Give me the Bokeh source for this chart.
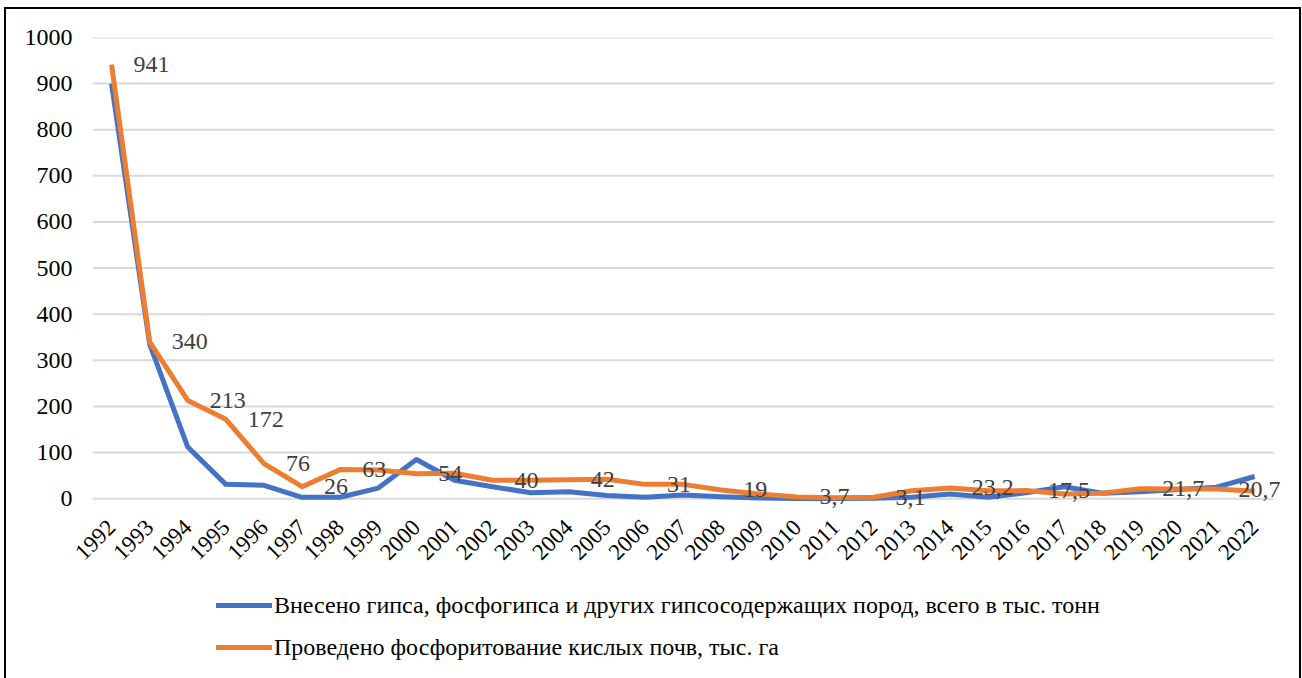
import math
from bokeh.plotting import figure
from bokeh.layouts import column
from bokeh.models import Range1d, Legend, LegendItem, ColumnDataSource, FixedTicker, LabelSet
from bokeh.embed import file_html
from bokeh.resources import INLINE

years = [str(y) for y in range(1992, 2023)]
gypsum = [900, 335, 112, 31, 29, 3, 3, 23, 85, 40, 26, 13, 15, 7, 3, 8, 4, 1.5, 0.5, 0.5, 1, 3, 10, 3, 13, 26, 12, 15, 20, 25, 48]
phosph = [941, 340, 213, 172, 76, 26, 63, 62, 54, 55, 40, 40, 41, 42, 31, 31, 19, 10, 3.7, 2, 3.1, 17, 23.2, 17, 17.5, 10, 12, 21.7, 21, 20.7, 16]
label_years = ["1992", "1993", "1994", "1995", "1996", "1997", "1998", "2000", "2002", "2004",
               "2006", "2008", "2010", "2012", "2014", "2016", "2019", "2021"]
label_texts = ["941", "340", "213", "172", "76", "26", "63", "54", "40", "42",
               "31", "19", "3,7", "3,1", "23,2", "17,5", "21,7", "20,7"]
y_ticks = list(range(0, 1001, 100))
name_gypsum = "Внесено гипса, фосфогипса и других гипсосодержащих пород, всего в тыс. тонн"
name_phosph = "Проведено фосфоритование кислых почв, тыс. га"

FONT = "Liberation Serif"
BLUE = "#4472C4"
ORANGE = "#ED7D31"
W = 1293

n = len(years)
xi = list(range(n))                       # category positions
label_x = [years.index(y) for y in label_years]
label_values = [phosph[i] for i in label_x]

# frame is a little larger than the category band so data labels at edges are not clipped
xr = Range1d(-0.5, n - 0.5 + 0.31)
yr = Range1d(-30, 1000)

p = figure(width=W, height=575, x_range=xr, y_range=yr, output_backend="svg", toolbar_location=None,
           min_border_left=86, min_border_top=28, min_border_right=14, min_border_bottom=72)
p.outline_line_color = None
p.background_fill_color = "white"
p.border_fill_color = "white"
p.grid.visible = False

# horizontal gridlines spanning the category band only
p.segment(x0=[-0.5] * len(y_ticks), x1=[n - 0.5] * len(y_ticks), y0=y_ticks, y1=y_ticks,
          line_color="#d9d9d9", line_width=2)

p.yaxis.ticker = FixedTicker(ticks=y_ticks)
p.xaxis.ticker = FixedTicker(ticks=xi)
p.xaxis.major_label_overrides = {i: y for i, y in zip(xi, years)}

for ax in (p.xaxis[0], p.yaxis[0]):
    ax.major_tick_line_color = None
    ax.minor_tick_line_color = None
    ax.major_tick_in = 0
    ax.major_tick_out = 0
    ax.axis_line_color = None
    ax.major_label_text_font = FONT
    ax.major_label_text_color = "#000000"
p.yaxis.major_label_text_font_size = "24px"
p.xaxis.major_label_text_font_size = "23px"
p.yaxis.major_label_standoff = 20
p.xaxis.major_label_orientation = math.pi / 4
p.xaxis.major_label_standoff = 11

src = ColumnDataSource(dict(x=xi, g=gypsum, f=phosph))
p.line("x", "g", source=src, line_color=BLUE, line_width=5, line_join="round")
p.line("x", "f", source=src, line_color=ORANGE, line_width=5, line_join="round")

lsrc = ColumnDataSource(dict(x=label_x, y=label_values, t=label_texts))
labels = LabelSet(x="x", y="y", text="t", source=lsrc, x_offset=22, text_align="left",
                  text_baseline="middle", text_font=FONT, text_font_size="24px",
                  text_color="#404040", level="overlay")
p.add_layout(labels)

# legend panel (series renderers kept invisible; only their legend glyphs are shown)
p2 = figure(width=W, height=94, x_range=xr, y_range=yr,
            output_backend="svg", toolbar_location=None, x_axis_type=None, y_axis_type=None,
            min_border=0)
p2.outline_line_color = None
p2.grid.visible = False
p2.background_fill_color = "white"
g1 = p2.line("x", "g", source=src, line_color=BLUE, line_width=5, line_cap="round", visible=False)
g2 = p2.line("x", "f", source=src, line_color=ORANGE, line_width=5, line_cap="round", visible=False)
legend = Legend(items=[LegendItem(label=name_gypsum, renderers=[g1]),
                       LegendItem(label=name_phosph, renderers=[g2])],
                location=(124, 10), orientation="vertical")
legend.padding = 0
legend.margin = 0
legend.spacing = 0
legend.glyph_width = 56
legend.glyph_height = 42
legend.label_height = 42
legend.label_standoff = 2
legend.label_text_font = FONT
legend.label_text_font_size = "24px"
legend.label_text_color = "#000000"
legend.border_line_color = None
legend.background_fill_alpha = 0
p2.add_layout(legend, "center")

layout = column(p, p2, spacing=0)
layout.margin = (7, 0, 0, 4)
layout.styles = {"border-left": "2px solid black", "border-top": "2px solid black",
                 "border-right": "2px solid black"}

open("out.html", "w").write(file_html(layout, INLINE))
